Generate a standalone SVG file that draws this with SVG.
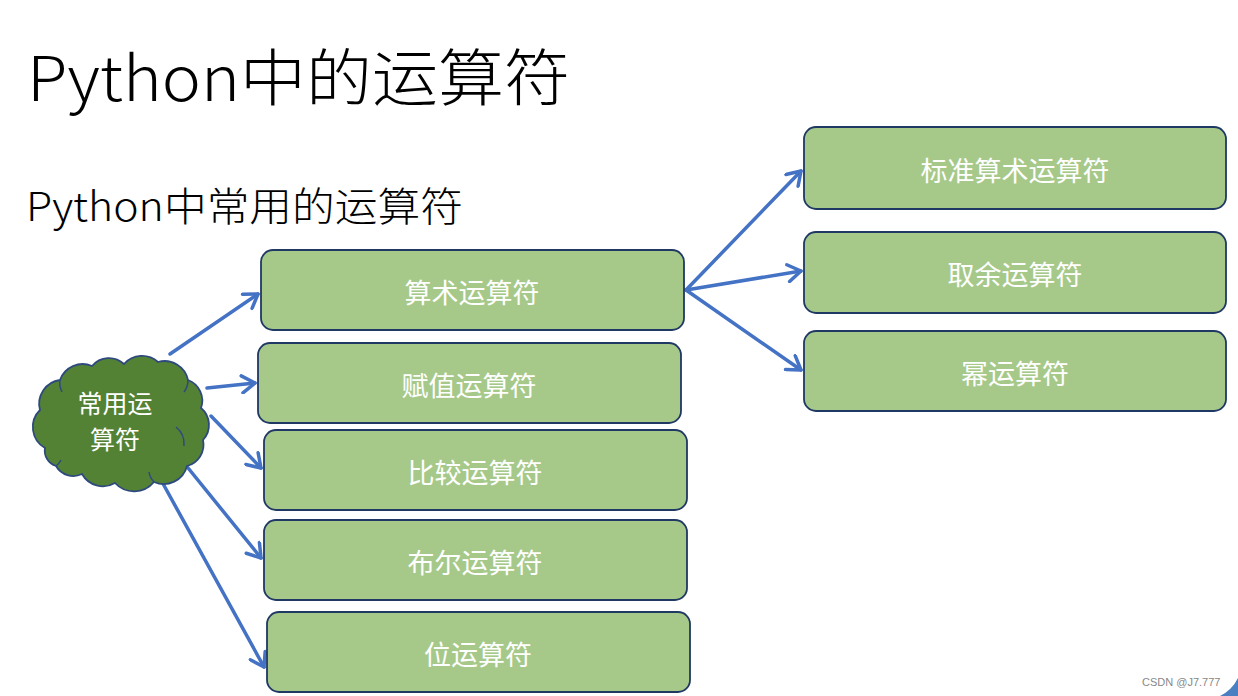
<svg xmlns="http://www.w3.org/2000/svg" width="1238" height="696" viewBox="0 0 1238 696">
<defs>
<style>
.box{fill:#a6c98a;stroke:#1f3864;stroke-width:1.8}
.lbl{font-family:"Noto Sans CJK SC","Noto Sans",sans-serif;font-size:27px;fill:#ffffff;text-anchor:middle;dominant-baseline:central}
.cl{font-family:"Noto Sans CJK SC","Noto Sans",sans-serif;font-size:25px;fill:#ffffff;text-anchor:middle;dominant-baseline:central}
.con{stroke:#4472c4;stroke-width:3.5;fill:none;stroke-linecap:round;marker-end:url(#ah)}
.ttl{font-family:"Noto Sans CJK SC","Noto Sans",sans-serif;font-weight:300;fill:#000000}
</style>
<marker id="ah" viewBox="0 0 20 20" markerWidth="20" markerHeight="20" refX="17" refY="10" orient="auto" markerUnits="userSpaceOnUse">
<path d="M4,1.5 L17,10 L4,18.5" fill="none" stroke="#4472c4" stroke-width="3.5" stroke-linecap="round" stroke-linejoin="round"/>
</marker>
</defs>
<rect width="1238" height="696" fill="#ffffff"/>

<text class="ttl" x="27" y="101" font-size="62" textLength="543" lengthAdjust="spacingAndGlyphs">Python中的运算符</text>
<text class="ttl" x="26" y="221" font-size="40" textLength="437" lengthAdjust="spacingAndGlyphs">Python中常用的运算符</text>

<g id="connectors">
<line class="con" x1="170" y1="354" x2="258" y2="294"/>
<line class="con" x1="207" y1="388" x2="255" y2="383"/>
<line class="con" x1="211" y1="416" x2="261" y2="468"/>
<line class="con" x1="180" y1="458" x2="261" y2="558"/>
<line class="con" x1="161" y1="480" x2="264" y2="667"/>
<line class="con" x1="686" y1="290" x2="801" y2="171"/>
<line class="con" x1="686" y1="290" x2="801" y2="271"/>
<line class="con" x1="686" y1="290" x2="801" y2="370"/>
</g>

<g id="cloud">
<path d="M45,448 A24,24 0 0 1 40,410 A24,24 0 0 1 60,380 A24,24 0 0 1 92,366 A22,22 0 0 1 124,364 A24,24 0 0 1 158,362 A24,24 0 0 1 188,380 A22,22 0 0 1 201,408 A22,22 0 0 1 203,440 A22,22 0 0 1 187,466 A24,24 0 0 1 154,482 A26,26 0 0 1 115,483 A24,24 0 0 1 82,474 A20,20 0 0 1 56,466 A16,16 0 0 1 45,448 Z" fill="#548235" stroke="#2e4a7d" stroke-width="1.8"/>
<path d="M176,427 A22,22 0 0 1 184,446 M154,482 A18,18 0 0 1 149,472 M188,380 A20,20 0 0 1 184,392 M60,380 A20,20 0 0 0 62,392 M56,466 A16,16 0 0 0 61,460" fill="none" stroke="#2e4a7d" stroke-width="1.5"/>
<text class="cl" x="115" y="402">常用运</text>
<text class="cl" x="115" y="438">算符</text>
</g>

<g id="n-arith"><rect class="box" x="261" y="250" width="423" height="80" rx="12"/><text class="lbl" x="472" y="291">算术运算符</text></g>
<g id="n-assign"><rect class="box" x="258" y="343" width="423" height="80" rx="12"/><text class="lbl" x="469" y="384">赋值运算符</text></g>
<g id="n-compare"><rect class="box" x="264" y="430" width="423" height="80" rx="12"/><text class="lbl" x="475" y="471">比较运算符</text></g>
<g id="n-bool"><rect class="box" x="264" y="520" width="423" height="80" rx="12"/><text class="lbl" x="475" y="561">布尔运算符</text></g>
<g id="n-bit"><rect class="box" x="267" y="612" width="423" height="80" rx="12"/><text class="lbl" x="478" y="653">位运算符</text></g>
<g id="n-std"><rect class="box" x="804" y="127" width="422" height="82" rx="12"/><text class="lbl" x="1015" y="169">标准算术运算符</text></g>
<g id="n-mod"><rect class="box" x="804" y="232" width="422" height="81" rx="12"/><text class="lbl" x="1015" y="273">取余运算符</text></g>
<g id="n-pow"><rect class="box" x="804" y="331" width="422" height="80" rx="12"/><text class="lbl" x="1015" y="372">幂运算符</text></g>

<text x="1142" y="686" font-family="Liberation Sans,Arial,sans-serif" font-size="11" fill="#888888">CSDN @J7.777</text>
<path d="M1220,696 Q1232,690 1238,678 L1238,696 Z" fill="#4a7fc1"/>
</svg>
